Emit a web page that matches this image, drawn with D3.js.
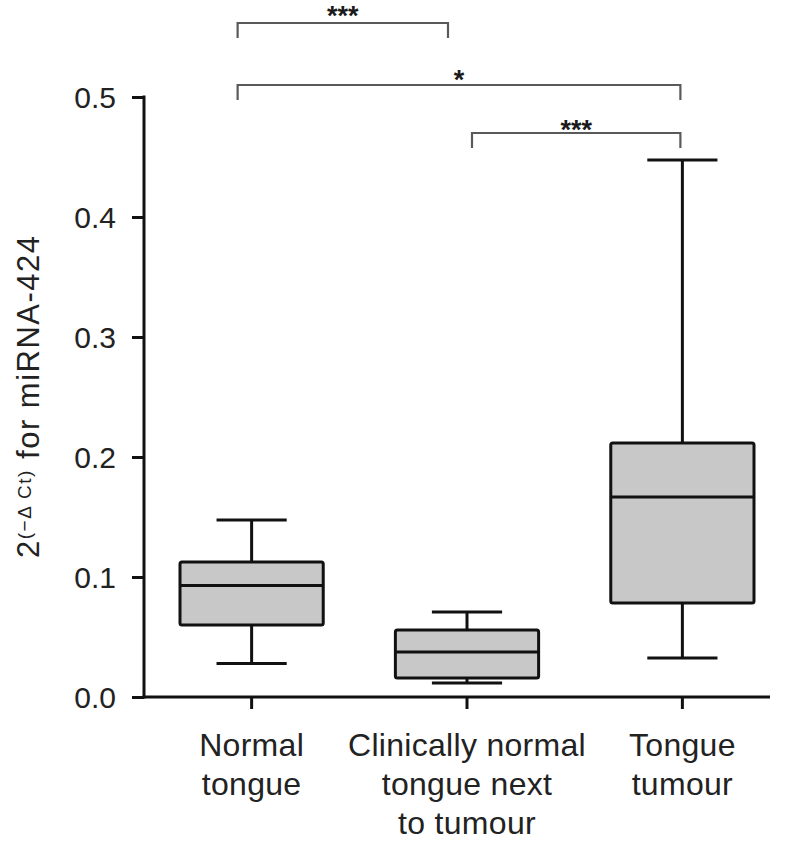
<!DOCTYPE html>
<html><head><meta charset="utf-8">
<script src="https://cdn.jsdelivr.net/npm/d3@7"></script>
<style>body{margin:0;background:#fff}svg{display:block;font-family:"Liberation Sans",Arial,Helvetica,sans-serif}</style>
</head><body>
<svg id="c" width="787" height="845"></svg>
<script>
const categories = ["Normal tongue", "Clinically normal tongue next to tumour", "Tongue tumour"];
const categoryLines = [["Normal","tongue"],["Clinically normal","tongue next","to tumour"],["Tongue","tumour"]];
const whiskerLow  = [0.028, 0.0117, 0.0325];
const q1          = [0.060, 0.0158, 0.0783];
const median      = [0.093, 0.0375, 0.1667];
const q3          = [0.1125, 0.0558, 0.2117];
const whiskerHigh = [0.1475, 0.0708, 0.4475];
const yTicks = [0, 0.1, 0.2, 0.3, 0.4, 0.5];
const sigLabels = ["***", "*", "***"];
const sigFrom = [0, 0, 1];
const sigTo   = [1, 2, 2];

const svg = d3.select("#c");
const W = 787, H = 845;
const axisX = 144, axisEnd = 770, baseY = 697, topY = 97;
const y = d3.scaleLinear().domain([0,0.5]).range([baseY, topY]);
const x = d3.scaleBand().domain(categories).range([180, 754]).paddingInner(0.335).paddingOuter(0);
const bw = x.bandwidth();
const col = "#111";

// y axis
const ya = svg.append("g").attr("transform",`translate(${axisX},0)`)
  .call(d3.axisLeft(y).tickValues(yTicks).tickFormat(d3.format(".1f")).tickSize(12).tickSizeOuter(0));
ya.select(".domain").attr("stroke",col).attr("stroke-width",3).attr("d",`M0,${baseY+1.5}V${topY-1.5}`);
ya.selectAll(".tick line").attr("stroke",col).attr("stroke-width",3);
ya.selectAll(".tick text").attr("font-size",30).attr("fill","#222").attr("x",-28).attr("dy","0.36em");

// x axis
const xa = svg.append("g").attr("transform",`translate(0,${baseY})`)
  .call(d3.axisBottom(x).tickSize(12).tickSizeOuter(0).tickFormat(""));
xa.select(".domain").attr("stroke",col).attr("stroke-width",3).attr("d",`M${axisX-1.5},0H${axisEnd}`);
xa.selectAll(".tick line").attr("stroke",col).attr("stroke-width",3);
xa.selectAll(".tick").each(function(d,i){
  const t = d3.select(this).append("text").attr("fill","#222").attr("font-size",32)
    .attr("letter-spacing",0.3).attr("text-anchor","middle");
  categoryLines[i].forEach((s,j)=>t.append("tspan").attr("x",0).attr("y",59+j*39).text(s));
});

// boxes
const g = svg.append("g");
categories.forEach((c,i)=>{
  const cx = x(c)+bw/2;
  const cap = bw*0.49;
  const L = (x1,x2,y1,y2)=>g.append("line").attr("x1",x1).attr("x2",x2).attr("y1",y1).attr("y2",y2).attr("stroke",col).attr("stroke-width",3);
  L(cx,cx,y(whiskerHigh[i]),y(q3[i]));
  L(cx,cx,y(q1[i]),y(whiskerLow[i]));
  L(cx-cap/2,cx+cap/2,y(whiskerHigh[i]),y(whiskerHigh[i]));
  L(cx-cap/2,cx+cap/2,y(whiskerLow[i]),y(whiskerLow[i]));
  g.append("rect").attr("x",x(c)).attr("width",bw).attr("y",y(q3[i])).attr("height",y(q1[i])-y(q3[i]))
    .attr("fill","#c8c8c8").attr("stroke",col).attr("stroke-width",3).attr("rx",2);
  L(x(c),x(c)+bw,y(median[i]),y(median[i]));
});

// significance brackets
const barY = [23, 85, 133];
const starY = [9, 73, 123];
const endOff = [[-14,-19],[-14,-2],[5,-2]];
const fs = 27;
sigLabels.forEach((s,k)=>{
  const x1 = x(categories[sigFrom[k]])+bw/2+endOff[k][0];
  const x2 = x(categories[sigTo[k]])+bw/2+endOff[k][1];
  const by = barY[k];
  svg.append("path").attr("d",`M${x1},${by+15}V${by}H${x2}V${by+15}`).attr("fill","none").attr("stroke","#5a5a5a").attr("stroke-width",2.2);
  svg.append("text").attr("x",(x1+x2)/2).attr("y",starY[k]+0.58*fs).attr("text-anchor","middle")
    .attr("font-size",fs).attr("font-weight","bold").attr("fill","#1a1a1a").text(s);
});

// y label
const yl = svg.append("text").attr("transform",`translate(39,558) rotate(-90)`).attr("text-anchor","start")
  .attr("font-size",31).attr("letter-spacing",1.5).attr("fill","#222");
yl.append("tspan").text("2");
yl.append("tspan").attr("dy",-8).attr("font-size",19).text("(−Δ Ct)");
yl.append("tspan").attr("dy",8).text(" for miRNA-424");
</script>
</body></html>
